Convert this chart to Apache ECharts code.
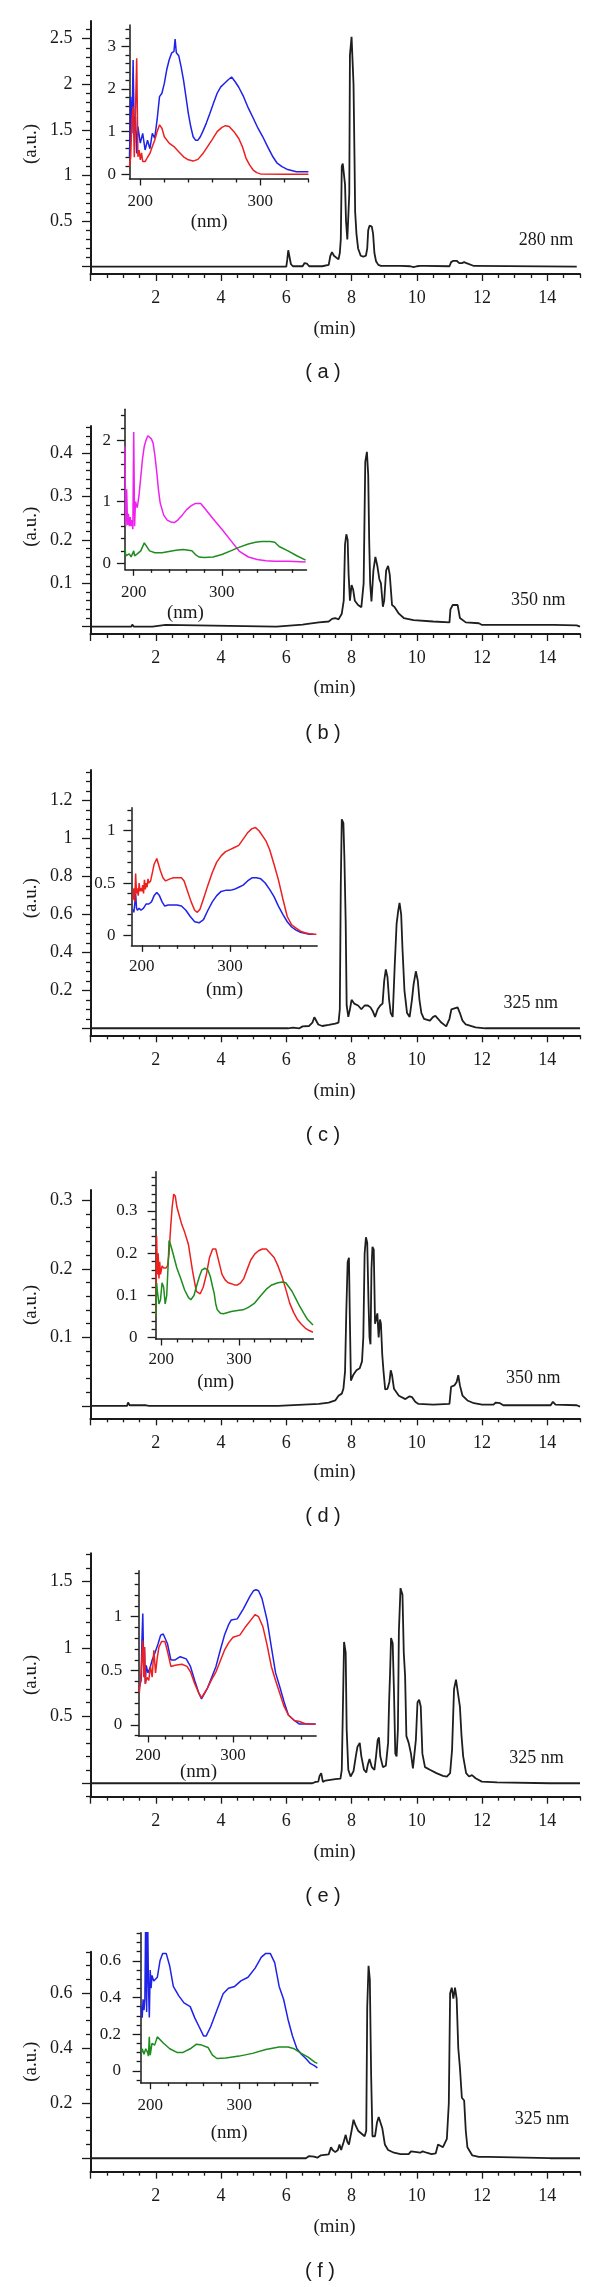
<!DOCTYPE html>
<html><head><meta charset="utf-8">
<script src="https://cdn.jsdelivr.net/npm/echarts/dist/echarts.min.js"></script>
<style>html,body{margin:0;padding:0;background:#fff}#c{width:600px;height:2287px}</style>
</head><body><div id="c"></div>
<script>
// ---------------- DATA ----------------
const timeLabels = [2,4,6,8,10,12,14];
const nmLabels = [200,300];

const chromA = [[0,0],[6.0,0],[6.03,0.08],[6.06,0.18],[6.1,0.16],[6.14,0.03],[6.2,0.005],[6.5,0.005],[6.56,0.04],[6.63,0.035],[6.7,0.005],[7.1,0.005],[7.3,0.02],[7.35,0.12],[7.4,0.16],[7.46,0.12],[7.52,0.1],[7.6,0.08],[7.64,0.15],[7.67,0.3],[7.7,1.1],[7.73,1.13],[7.77,1.12],[7.8,0.9],[7.83,0.5],[7.87,0.3],[7.9,0.28],[7.93,0.8],[7.95,2.32],[7.98,2.33],[8.0,2.52],[8.04,2.5],[8.06,2.0],[8.09,1.2],[8.11,0.6],[8.15,0.36],[8.2,0.2],[8.28,0.12],[8.36,0.11],[8.44,0.12],[8.48,0.2],[8.51,0.4],[8.55,0.45],[8.62,0.44],[8.66,0.36],[8.7,0.15],[8.75,0.06],[8.82,0.02],[8.9,0.01],[9.5,0.01],[9.8,0.005],[9.9,-0.005],[10.0,0.005],[10.1,0.01],[10.25,0.01],[10.3,0],[11.0,0.005],[11.05,0.05],[11.12,0.065],[11.22,0.065],[11.3,0.04],[11.38,0.04],[11.45,0.05],[11.52,0.04],[11.58,0.02],[11.75,0.008],[11.8,0],[14.9,0]];
const specA_blue = [[191,0.41],[192,1.82],[193,0.96],[194,2.68],[195,0.96],[196,1.35],[197,0.49],[198,1.12],[200,0.73],[202,0.96],[204,0.57],[206,0.8],[208,0.6],[210,0.96],[212,0.85],[214,1.28],[216,1.82],[218,1.9],[220,2.13],[222,2.45],[224,2.68],[226,2.84],[228,2.88],[229,3.17],[230,2.85],[232,2.78],[234,2.52],[236,2.21],[238,1.82],[240,1.43],[242,1.12],[244,0.88],[246,0.8],[248,0.8],[250,0.88],[252,1.0],[255,1.2],[258,1.43],[261,1.67],[264,1.9],[267,2.05],[270,2.13],[273,2.21],[276,2.28],[279,2.17],[282,2.04],[286,1.82],[290,1.55],[294,1.32],[298,1.08],[302,0.88],[306,0.65],[310,0.43],[314,0.26],[318,0.18],[322,0.12],[326,0.09],[330,0.06],[335,0.06],[340,0.06]];
const specA_red = [[191,0.18],[192,0.41],[193,1.27],[194,1.59],[195,0.4],[196,1.51],[197,2.72],[198,0.41],[199,0.57],[200,0.34],[201,0.5],[202,0.3],[204,0.3],[206,0.4],[208,0.49],[210,0.65],[212,0.8],[214,1.0],[216,1.16],[218,1.08],[220,0.88],[224,0.73],[228,0.65],[232,0.53],[236,0.41],[240,0.34],[244,0.31],[248,0.35],[252,0.48],[256,0.65],[260,0.82],[264,1.0],[268,1.1],[271,1.14],[274,1.12],[278,1.0],[282,0.84],[285,0.65],[288,0.38],[291,0.22],[294,0.1],[297,0.04],[300,0.01],[320,0.0],[340,0.0]];

const chromB = [[0,0],[1.25,0],[1.28,0.005],[1.33,0],[1.9,0],[1.95,0.004],[2.3,0.004],[2.35,0],[5.7,0],[5.72,0.004],[6.5,0.005],[6.55,0.008],[6.6,0.006],[7.0,0.01],[7.05,0.012],[7.3,0.012],[7.4,0.018],[7.5,0.02],[7.6,0.017],[7.7,0.03],[7.76,0.06],[7.8,0.19],[7.84,0.213],[7.88,0.2],[7.91,0.12],[7.95,0.06],[8.0,0.096],[8.05,0.085],[8.1,0.06],[8.2,0.05],[8.3,0.045],[8.37,0.1],[8.42,0.38],[8.47,0.403],[8.51,0.35],[8.54,0.2],[8.57,0.1],[8.61,0.058],[8.67,0.13],[8.73,0.161],[8.79,0.14],[8.85,0.11],[8.9,0.1],[8.96,0.046],[9.0,0.06],[9.06,0.13],[9.12,0.14],[9.17,0.12],[9.24,0.05],[9.32,0.045],[9.45,0.03],[9.6,0.02],[9.9,0.015],[10.5,0.012],[11.0,0.01],[11.03,0.04],[11.1,0.05],[11.25,0.05],[11.32,0.02],[11.5,0.01],[11.9,0.008],[12.0,0.004],[14.05,0.004],[14.1,0.006],[14.2,0.004],[14.9,0.003],[15,0]];
const specB_magenta = [[190,1.9],[191,0.6],[192,1.2],[193,0.62],[194,0.8],[195,0.6],[196,0.75],[197,0.6],[198,0.7],[199,0.55],[200,2.13],[201,0.6],[202,1.0],[204,0.9],[206,1.1],[208,1.4],[210,1.7],[212,1.9],[214,2.0],[216,2.07],[218,2.06],[220,2.02],[222,1.95],[224,1.75],[226,1.5],[228,1.2],[230,0.98],[234,0.78],[238,0.7],[242,0.67],[246,0.66],[250,0.7],[255,0.78],[260,0.87],[265,0.93],[270,0.97],[276,0.97],[280,0.9],[285,0.81],[290,0.72],[300,0.55],[310,0.37],[320,0.19],[330,0.1],[340,0.06],[350,0.04],[360,0.03],[375,0.03],[395,0.02]];
const specB_green = [[190,0.25],[191,0.12],[193,0.1],[195,0.15],[197,0.1],[199,0.12],[200,0.2],[201,0.12],[204,0.15],[208,0.2],[212,0.33],[214,0.3],[218,0.2],[224,0.17],[232,0.17],[240,0.19],[248,0.21],[256,0.22],[262,0.21],[266,0.2],[270,0.14],[274,0.1],[280,0.09],[290,0.1],[300,0.14],[310,0.2],[320,0.26],[330,0.31],[338,0.34],[345,0.35],[355,0.35],[360,0.34],[365,0.27],[375,0.2],[385,0.12],[395,0.05]];

const chromC = [[0,0],[1.27,0],[1.3,0.005],[1.33,0],[6.05,0],[6.1,0.008],[6.2,0.003],[6.4,0],[6.5,0.01],[6.7,0.012],[6.8,0.03],[6.86,0.058],[6.92,0.05],[6.98,0.02],[7.1,0.012],[7.3,0.018],[7.5,0.025],[7.6,0.03],[7.64,0.1],[7.67,0.76],[7.7,1.1],[7.75,1.08],[7.78,0.9],[7.82,0.56],[7.85,0.12],[7.9,0.06],[7.95,0.1],[8.0,0.15],[8.04,0.158],[8.08,0.13],[8.14,0.14],[8.2,0.12],[8.3,0.1],[8.4,0.12],[8.5,0.12],[8.58,0.11],[8.65,0.09],[8.72,0.06],[8.8,0.1],[8.88,0.12],[8.95,0.13],[9.0,0.25],[9.05,0.31],[9.1,0.27],[9.15,0.15],[9.2,0.08],[9.26,0.06],[9.32,0.32],[9.38,0.55],[9.43,0.62],[9.47,0.66],[9.52,0.6],[9.56,0.42],[9.62,0.2],[9.7,0.08],[9.78,0.06],[9.85,0.15],[9.9,0.23],[9.97,0.3],[10.03,0.25],[10.08,0.15],[10.14,0.08],[10.22,0.05],[10.4,0.04],[10.5,0.06],[10.57,0.065],[10.65,0.05],[10.75,0.03],[10.9,0.01],[11.0,0.05],[11.06,0.1],[11.12,0.11],[11.25,0.11],[11.32,0.08],[11.4,0.04],[11.5,0.02],[11.8,0.005],[12.1,0],[14.15,0],[14.2,0.008],[14.3,0],[15,0]];
const specC_blue = [[190,0.25],[191,0.22],[192,0.3],[193,0.4],[194,0.26],[195,0.24],[197,0.26],[199,0.24],[202,0.26],[205,0.3],[208,0.3],[211,0.32],[214,0.38],[217,0.41],[220,0.38],[223,0.32],[226,0.28],[230,0.29],[235,0.29],[240,0.29],[245,0.28],[250,0.24],[255,0.18],[260,0.13],[265,0.12],[270,0.15],[275,0.24],[280,0.32],[285,0.38],[290,0.42],[295,0.43],[300,0.43],[305,0.44],[310,0.46],[315,0.48],[320,0.52],[325,0.55],[330,0.55],[335,0.54],[340,0.5],[345,0.44],[350,0.37],[355,0.28],[360,0.2],[365,0.13],[370,0.08],[375,0.05],[380,0.03],[385,0.02],[390,0.01],[395,0.01]];
const specC_red = [[190,0.34],[191,0.45],[192,0.32],[193,0.59],[194,0.4],[195,0.45],[196,0.38],[197,0.5],[198,0.42],[199,0.45],[200,0.42],[201,0.48],[202,0.4],[203,0.53],[204,0.44],[205,0.5],[206,0.46],[207,0.54],[208,0.5],[210,0.52],[212,0.6],[214,0.68],[217,0.735],[219,0.72],[221,0.62],[224,0.55],[227,0.52],[232,0.54],[236,0.55],[240,0.55],[245,0.55],[248,0.52],[252,0.42],[256,0.32],[260,0.24],[263,0.22],[266,0.25],[270,0.35],[275,0.48],[280,0.6],[285,0.7],[290,0.76],[295,0.8],[300,0.82],[305,0.84],[310,0.86],[315,0.92],[320,0.98],[325,1.02],[329,1.03],[333,1.0],[337,0.95],[341,0.9],[345,0.82],[350,0.68],[355,0.53],[360,0.35],[365,0.18],[370,0.1],[375,0.07],[380,0.04],[385,0.025],[390,0.015],[395,0.01],[398,0.01]];

const chromD = [[0,0],[1.12,0],[1.15,0.005],[1.2,0.001],[1.7,0.001],[1.75,0.003],[1.8,0],[5.75,0],[5.78,0.002],[7.0,0.003],[7.3,0.005],[7.5,0.008],[7.6,0.015],[7.7,0.018],[7.75,0.025],[7.8,0.05],[7.84,0.14],[7.88,0.21],[7.92,0.216],[7.95,0.12],[7.98,0.037],[8.05,0.045],[8.15,0.052],[8.25,0.055],[8.32,0.065],[8.36,0.1],[8.4,0.222],[8.44,0.246],[8.48,0.238],[8.52,0.15],[8.55,0.1],[8.58,0.09],[8.61,0.2],[8.64,0.232],[8.68,0.228],[8.72,0.12],[8.76,0.12],[8.79,0.135],[8.83,0.1],[8.87,0.126],[8.9,0.12],[8.94,0.075],[8.98,0.05],[9.03,0.024],[9.1,0.025],[9.16,0.035],[9.2,0.052],[9.24,0.045],[9.3,0.025],[9.45,0.015],[9.65,0.01],[9.78,0.014],[9.85,0.013],[9.95,0.006],[10.05,0.003],[10.5,0.002],[11.0,0.003],[11.05,0.028],[11.15,0.03],[11.22,0.035],[11.27,0.045],[11.32,0.03],[11.4,0.015],[11.55,0.008],[11.75,0.004],[12.0,0.002],[12.35,0.002],[12.42,0.005],[12.55,0.004],[12.65,0.001],[14.1,0.001],[14.17,0.006],[14.25,0.002],[14.9,0.001],[15,-0.001]];
const specD_red = [[193,0.05],[194,0.24],[195,0.15],[196,0.2],[197,0.14],[198,0.18],[199,0.15],[201,0.17],[203,0.165],[206,0.165],[208,0.17],[210,0.2],[212,0.26],[214,0.31],[216,0.34],[218,0.335],[220,0.31],[223,0.29],[226,0.27],[230,0.25],[235,0.22],[240,0.16],[245,0.11],[250,0.104],[254,0.12],[258,0.15],[262,0.19],[266,0.21],[270,0.21],[274,0.18],[278,0.15],[282,0.137],[286,0.13],[290,0.128],[294,0.125],[298,0.125],[302,0.13],[306,0.14],[310,0.16],[315,0.184],[320,0.198],[325,0.206],[330,0.21],[335,0.21],[340,0.2],[345,0.19],[350,0.17],[355,0.145],[360,0.115],[365,0.082],[370,0.06],[375,0.043],[380,0.032],[385,0.023],[390,0.017],[395,0.013]];
const specD_green = [[193,0.05],[194,0.13],[195,0.11],[197,0.08],[199,0.09],[201,0.13],[203,0.12],[205,0.08],[207,0.1],[209,0.18],[210,0.23],[212,0.22],[215,0.2],[220,0.165],[225,0.14],[230,0.113],[235,0.095],[238,0.09],[242,0.1],[245,0.12],[249,0.145],[252,0.16],[256,0.165],[260,0.16],[263,0.145],[266,0.12],[268,0.105],[270,0.08],[272,0.066],[276,0.058],[280,0.057],[290,0.062],[300,0.065],[305,0.066],[312,0.072],[320,0.082],[328,0.1],[335,0.115],[342,0.125],[350,0.13],[356,0.132],[360,0.13],[364,0.12],[368,0.11],[373,0.092],[378,0.074],[383,0.058],[388,0.043],[395,0.03]];

const chromE = [[0,0],[1.28,0],[1.31,0.005],[1.35,0],[6.8,0],[6.9,0.01],[6.98,0.012],[7.02,0.055],[7.07,0.075],[7.12,0.01],[7.2,0.02],[7.5,0.03],[7.66,0.035],[7.7,0.1],[7.73,0.5],[7.77,1.05],[7.8,1.04],[7.82,0.97],[7.85,0.4],[7.9,0.1],[7.97,0.05],[8.06,0.09],[8.13,0.2],[8.18,0.27],[8.25,0.3],[8.3,0.2],[8.38,0.1],[8.45,0.08],[8.5,0.14],[8.55,0.18],[8.62,0.12],[8.7,0.1],[8.75,0.2],[8.8,0.32],[8.84,0.34],[8.88,0.2],[8.96,0.12],[9.05,0.13],[9.12,0.3],[9.15,0.6],[9.18,0.82],[9.21,1.08],[9.26,1.04],[9.3,0.68],[9.34,0.22],[9.38,0.2],[9.42,0.4],[9.45,1.13],[9.5,1.45],[9.56,1.4],[9.6,0.97],[9.64,0.8],[9.68,0.35],[9.75,0.3],[9.82,0.22],[9.88,0.11],[9.93,0.11],[9.97,0.32],[10.02,0.6],[10.07,0.62],[10.12,0.57],[10.17,0.22],[10.25,0.12],[10.4,0.1],[10.6,0.075],[10.8,0.055],[10.92,0.05],[11.02,0.075],[11.08,0.25],[11.14,0.7],[11.2,0.77],[11.26,0.76],[11.32,0.57],[11.37,0.35],[11.42,0.2],[11.51,0.075],[11.6,0.05],[11.69,0.06],[11.8,0.037],[11.99,0.012],[12.46,0.007],[12.5,0],[14.08,0],[14.12,0.006],[14.18,0],[15,0]];
const specE_blue = [[190,0.35],[192,0.41],[193,0.78],[194,1.03],[195,0.6],[196,0.72],[197,0.38],[198,0.55],[200,0.48],[203,0.54],[205,0.6],[208,0.66],[212,0.75],[215,0.83],[218,0.84],[220,0.83],[223,0.75],[227,0.6],[232,0.6],[238,0.63],[245,0.61],[250,0.54],[255,0.41],[260,0.29],[263,0.24],[265,0.23],[270,0.34],[275,0.44],[280,0.54],[285,0.69],[290,0.83],[295,0.93],[298,0.97],[305,0.98],[312,1.07],[316,1.13],[320,1.19],[324,1.24],[327,1.25],[330,1.24],[334,1.17],[337,1.07],[340,0.97],[345,0.72],[350,0.48],[355,0.35],[360,0.21],[365,0.09],[372,0.04],[378,0.006],[385,0.006],[392,0.006],[397,0.006]];
const specE_red = [[190,0.3],[192,0.48],[194,0.78],[195,0.44],[196,0.72],[197,0.38],[199,0.44],[201,0.41],[203,0.54],[205,0.44],[207,0.69],[209,0.48],[211,0.62],[213,0.72],[216,0.77],[220,0.77],[223,0.68],[227,0.54],[232,0.55],[240,0.56],[246,0.54],[250,0.49],[255,0.38],[260,0.29],[263,0.25],[265,0.24],[270,0.34],[275,0.42],[280,0.49],[285,0.59],[290,0.69],[295,0.76],[300,0.81],[308,0.83],[315,0.91],[322,0.98],[326,1.02],[330,1.0],[335,0.91],[340,0.74],[345,0.54],[350,0.41],[355,0.29],[360,0.17],[365,0.09],[372,0.04],[378,0.03],[385,0.01],[392,0.006],[397,0.004]];

const chromF = [[0,0],[1.28,0],[1.31,0.003],[1.34,0],[6.6,0],[6.7,0.008],[6.76,0.012],[6.85,0.006],[6.95,0.002],[7.05,0.01],[7.3,0.014],[7.37,0.04],[7.42,0.03],[7.5,0.022],[7.58,0.03],[7.63,0.05],[7.68,0.03],[7.76,0.06],[7.82,0.085],[7.87,0.06],[7.92,0.05],[8.0,0.1],[8.06,0.14],[8.12,0.12],[8.2,0.1],[8.3,0.09],[8.4,0.08],[8.45,0.1],[8.48,0.55],[8.52,0.7],[8.56,0.65],[8.6,0.3],[8.64,0.08],[8.72,0.08],[8.78,0.13],[8.83,0.15],[8.88,0.145],[8.94,0.11],[9.02,0.05],[9.12,0.03],[9.3,0.02],[9.5,0.015],[9.75,0.015],[9.82,0.025],[10.0,0.022],[10.1,0.02],[10.18,0.025],[10.3,0.02],[10.45,0.015],[10.58,0.018],[10.65,0.05],[10.8,0.04],[10.92,0.07],[10.98,0.2],[11.02,0.6],[11.07,0.62],[11.12,0.58],[11.17,0.62],[11.22,0.58],[11.27,0.4],[11.32,0.33],[11.38,0.22],[11.45,0.21],[11.5,0.1],[11.55,0.04],[11.7,0.01],[11.9,0.005],[12.2,0.005],[12.25,0],[14.08,0],[14.13,0.004],[14.25,0],[15,0]];
const specF_blue = [[190,0.35],[191,0.29],[192,0.39],[193,0.33],[194,0.39],[195,0.9],[196,0.32],[197,0.9],[198,0.48],[199,0.29],[200,0.55],[201,0.45],[202,0.52],[204,0.49],[206,0.5],[208,0.51],[211,0.6],[214,0.64],[218,0.64],[220,0.63],[222,0.57],[226,0.46],[232,0.41],[238,0.37],[245,0.35],[250,0.29],[255,0.24],[260,0.19],[263,0.19],[268,0.24],[275,0.33],[282,0.42],[288,0.45],[295,0.46],[302,0.49],[310,0.51],[318,0.56],[325,0.62],[330,0.64],[335,0.64],[340,0.59],[345,0.46],[350,0.39],[355,0.28],[360,0.19],[365,0.12],[370,0.09],[375,0.067],[380,0.04],[385,0.027],[388,0.016]];
const specF_green = [[190,0.095],[191,0.12],[193,0.09],[195,0.12],[197,0.1],[198,0.08],[199,0.185],[200,0.085],[202,0.15],[205,0.14],[208,0.185],[210,0.19],[215,0.15],[222,0.12],[230,0.1],[237,0.1],[245,0.12],[252,0.145],[258,0.14],[265,0.127],[270,0.085],[275,0.067],[285,0.07],[300,0.08],[315,0.095],[330,0.116],[345,0.13],[355,0.13],[362,0.12],[370,0.095],[378,0.073],[385,0.047],[388,0.04]];

const yLabelsA = [0.5,1,1.5,2,2.5],  insetYA = [0,1,2,3];
const yLabelsB = [0.1,0.2,0.3,0.4], insetYB = [0,1,2];
const yLabelsC = [0.2,0.4,0.6,0.8,1,1.2], insetYC = [0,0.5,1];
const yLabelsD = [0.1,0.2,0.3], insetYD = [0,0.1,0.2,0.3];
const yLabelsE = [0.5,1,1.5], insetYE = [0,0.5,1];
const yLabelsF = [0.2,0.4,0.6], insetYF = [0,0.2,0.4,0.6];

// ---------------- LAYOUT / STYLE ----------------
const BLUE='#1f22e8', RED='#ee1f1f', MAG='#f020f0', GREEN='#1e8c1e', INK='#1a1a1a';
const SERIF='"Liberation Serif", "Times New Roman", serif';
const MAINX = {l:90.5, r:580};

const panels = [
 {tag:'( a )', wave:'280 nm', chrom:chromA, yl:yLabelsA, ymin:-0.08, ymax:2.694, ystep:0.1, top:21, bot:274,
  inset:{l:129.5,r:308.4,t:25,b:179,xmin:191,xmax:340,ymin:-0.11,ymax:3.5,yl:insetYA,ystep:0.2,xm:13.6,ym:13.5,
   s:[[specA_blue,BLUE],[specA_red,RED]]},
  au:144, minY:329, labY:372.7, labX:323, waveXY:[546,240.7], nmXY:[209.2,221.7]},
 {tag:'( b )', wave:'350 nm', chrom:chromB, yl:yLabelsB, ymin:-0.0168, ymax:0.4625, ystep:0.02, top:426, bot:634,
  inset:{l:124.9,r:306.5,t:409.3,b:569.3,xmin:190,xmax:396,ymin:-0.1,ymax:2.5,yl:insetYB,ystep:0.2,xm:14.6,ym:14,
   s:[[specB_magenta,MAG],[specB_green,GREEN]]},
  au:526.7, minY:688, labY:733, labX:323, waveXY:[538.3,600.7], nmXY:[185.4,613.3]},
 {tag:'( c )', wave:'325 nm', chrom:chromC, yl:yLabelsC, ymin:-0.037, ymax:1.36, ystep:0.05, top:770, bot:1035.3,
  inset:{l:131.4,r:317.2,t:807.7,b:945.3,xmin:188.2,xmax:399,ymin:-0.095,ymax:1.22,yl:insetYC,ystep:0.1,xm:12.6,ym:16,
   s:[[specC_blue,BLUE],[specC_red,RED]]},
  au:898.3, minY:1090.7, labY:1135, labX:323, waveXY:[530.7,1003.3], nmXY:[224.5,990]},
 {tag:'( d )', wave:'350 nm', chrom:chromD, yl:yLabelsD, ymin:-0.018, ymax:0.315, ystep:0.02, top:1190, bot:1418.3,
  inset:{l:155.6,r:313.4,t:1171.7,b:1339,xmin:192.7,xmax:395.5,ymin:-0.003,ymax:0.393,yl:insetYD,ystep:0.02,xm:11.6,ym:18,
   s:[[specD_red,RED],[specD_green,GREEN]]},
  au:1305, minY:1471.7, labY:1516.7, labX:323, waveXY:[533.3,1378.3], nmXY:[215.7,1381.7]},
 {tag:'( e )', wave:'325 nm', chrom:chromE, yl:yLabelsE, ymin:-0.1, ymax:1.709, ystep:0.1, top:1553.3, bot:1796.7,
  inset:{l:138.7,r:316.1,t:1570.7,b:1736,xmin:189.2,xmax:397.6,ymin:-0.104,ymax:1.426,yl:insetYE,ystep:0.1,xm:10.6,ym:16.5,
   s:[[specE_blue,BLUE],[specE_red,RED]]},
  au:1675, minY:1851.7, labY:1896.7, labX:323, waveXY:[536.4,1758.3], nmXY:[198.5,1772.3]},
 {tag:'( f )', wave:'325 nm', chrom:chromF, yl:yLabelsF, ymin:-0.049, ymax:0.751, ystep:0.05, top:1951.7, bot:2171.7,
  inset:{l:140.6,r:318,t:1932.7,b:2082.7,xmin:189.2,xmax:388.7,ymin:-0.065,ymax:0.753,yl:insetYF,ystep:0.05,xm:14.6,ym:19.5,
   s:[[specF_blue,BLUE],[specF_green,GREEN]]},
  au:2061.7, minY:2226.7, labY:2271.7, labX:320, waveXY:[542.1,2119.3], nmXY:[229.1,2133.3]}
];

// ---------------- BUILD ----------------
const option = {animation:false, backgroundColor:'#fff', grid:[], xAxis:[], yAxis:[], series:[], graphic:{elements:[]}};

function minorVals(min, max, step, majors){
  const out=[]; const s=Math.ceil(min/step-1e-9);
  for(let k=s; k*step<=max+1e-9; k++){
    const v=+(k*step).toFixed(6);
    if(!majors.some(m=>Math.abs(m-v)<1e-7)) out.push(v);
  }
  return out;
}

function addBox(box, xr, yr, xLab, xMaj, xStep, yLab, yMaj, yStep, main, xMargin, yMargin){
  const gi = option.grid.length;
  option.grid.push({left:box.l, top:box.t, width:box.r-box.l, height:box.b-box.t, containLabel:false, show:false});
  const fs = main?18:17, lw = main?2:1.5;
  const lab = {fontFamily:SERIF, fontSize:fs, color:INK};
  const tickStyle = {color:INK, width:1.3};
  const xi = option.xAxis.length, yi = option.yAxis.length;
  option.xAxis.push({type:'value', gridIndex:gi, position:'bottom', min:xr[0], max:xr[1],
    axisLine:{show:true, onZero:false, lineStyle:{color:INK, width:lw}},
    axisTick:{show:true, customValues:xMaj, length:main?7:6.5, lineStyle:tickStyle},
    axisLabel:{show:true, customValues:xLab, margin:xMargin, ...lab}, splitLine:{show:false}});
  option.xAxis.push({type:'value', gridIndex:gi, position:'bottom', min:xr[0], max:xr[1],
    axisLine:{show:false, onZero:false},
    axisTick:{show:true, customValues:minorVals(xr[0], xr[1], xStep, xMaj), length:main?4:3.5, lineStyle:tickStyle},
    axisLabel:{show:false}, splitLine:{show:false}});
  option.yAxis.push({type:'value', gridIndex:gi, position:'left', min:yr[0], max:yr[1],
    axisLine:{show:true, onZero:false, lineStyle:{color:INK, width:lw}},
    axisTick:{show:true, customValues:yMaj, length:main?8.5:8, lineStyle:tickStyle},
    axisLabel:{show:true, customValues:yLab, margin:yMargin, ...lab}, splitLine:{show:false}});
  option.yAxis.push({type:'value', gridIndex:gi, position:'left', min:yr[0], max:yr[1],
    axisLine:{show:false, onZero:false},
    axisTick:{show:true, customValues:minorVals(yr[0], yr[1], yStep, yMaj), length:main?4.5:4, lineStyle:tickStyle},
    axisLabel:{show:false}, splitLine:{show:false}});
  return {xi, yi};
}

function addLine(data, color, width, ax){
  option.series.push({type:'line', data:data, xAxisIndex:ax.xi, yAxisIndex:ax.yi, symbol:'none', showSymbol:false,
    lineStyle:{color:color, width:width}, clip:true, silent:true, z:3});
}

function addText(x, y, text, size, family, rot){
  option.graphic.elements.push({type:'text', x:x, y:y, rotation:rot||0, silent:true,
    style:{text:text, fontSize:size, fontFamily:family, fill:INK, align:'center', verticalAlign:'middle',
      textAlign:'center', textVerticalAlign:'middle'}});
}

const timeMaj = [0].concat(timeLabels);
panels.forEach(p=>{
  const mainAx = addBox({l:MAINX.l, r:MAINX.r, t:p.top, b:p.bot}, [0,15], [p.ymin,p.ymax],
    timeLabels, timeMaj, 0.5, p.yl, [0].concat(p.yl), p.ystep, true, 15.5, 18);
  addLine(p.chrom, '#1e1e1e', 1.8, mainAx);
  const q = p.inset;
  const inAx = addBox({l:q.l, r:q.r, t:q.t, b:q.b}, [q.xmin,q.xmax], [q.ymin,q.ymax],
    nmLabels, nmLabels, 20, q.yl, q.yl, q.ystep, false, q.xm, q.ym);
  q.s.forEach(s=>addLine(s[0], s[1], 1.5, inAx));
  addText(30.7, p.au, '(a.u.)', 19, SERIF, Math.PI/2);
  addText(334.5, p.minY, '(min)', 19, SERIF);
  addText(p.nmXY[0], p.nmXY[1], '(nm)', 19, SERIF);
  addText(p.waveXY[0], p.waveXY[1], p.wave, 18, SERIF);
  addText(p.labX, p.labY, p.tag, 20, '"Liberation Sans", Arial, sans-serif');
});

const chart = echarts.init(document.getElementById('c'), null, {renderer:'canvas'});
chart.setOption(option);
</script></body></html>
